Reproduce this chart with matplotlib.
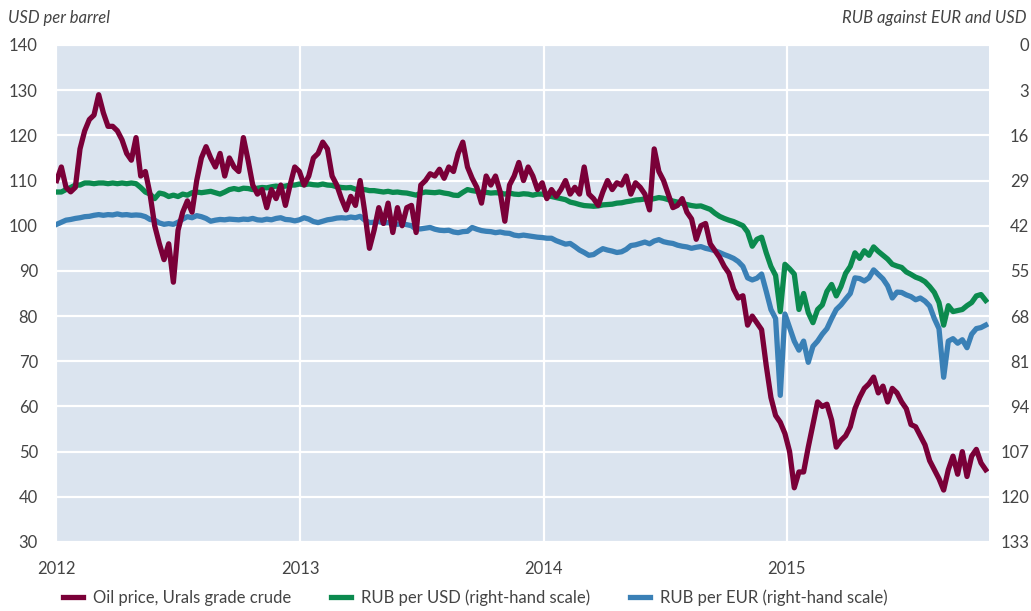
import numpy as np
import pandas as pd
import matplotlib
matplotlib.use('Agg')
import matplotlib.pyplot as plt

# weekly readings, first Monday of 2012 onwards
oil_usd = [
    110, 113, 108.5, 107.5, 108.5, 117, 121, 123.5, 124.5, 129, 125, 122, 122,
    121, 119, 116, 114.5, 119.5, 111, 112, 107, 100, 96, 92.5, 96, 87.5,
    99, 103, 105.5, 103, 110, 115, 117.5, 115, 113, 116, 111, 115, 113,
    112, 119.5, 114.5, 109, 107, 108, 104, 108, 106, 109, 104.5, 109, 113,
    # 2013
    112, 109, 111, 115, 116, 118.5, 117, 111, 109, 106, 103.5, 106.5, 104.5,
    110, 103, 95, 99, 104, 100.5, 105, 98.5, 104, 100, 104, 104.5, 98.5,
    109, 110, 111.5, 111, 112.5, 110.5, 113, 112, 116, 118.5, 113, 110.5, 108.5,
    105, 111, 109, 111, 107.5, 101, 109, 111, 114, 110, 113, 111, 108,
    # 2014
    109.5, 106, 108, 106.5, 108, 110, 107, 108.5, 107, 113, 107, 106, 104.5,
    107.5, 110, 108, 109.5, 109, 111, 107, 109.5, 108.5, 107, 103.5, 117, 112,
    110, 107, 104, 104.5, 106, 103, 101.5, 97, 100, 100.5, 96, 94.5, 93,
    91, 89.5, 86, 84, 84.5, 78, 80, 78.5, 77, 69, 62, 58, 56.5,
    # 2015
    54, 50, 42, 45.5, 45.5, 51, 56, 61, 60, 60.5, 57,
    51, 52.5, 53.5, 55.5, 59.5, 62, 64, 65, 66.5, 63, 64.5,
    61, 64, 63, 61, 59.5, 56, 55.5, 53.5, 51.5, 48, 46,
    44, 41.5, 46, 49, 45, 50, 44.5, 49, 50.5, 47.5, 46,
]

rub_usd = [
    32.3, 32.3, 31.6, 31.0, 30.3, 30.3, 29.7, 29.7, 29.9, 29.7, 29.7, 29.9, 29.7,
    29.9, 29.7, 29.9, 29.7, 29.9, 31.0, 32.3, 32.9, 34.2, 32.6, 32.9, 33.6, 33.2,
    33.6, 32.9, 33.2, 32.5, 32.3, 32.5, 32.3, 32.1, 32.5, 32.9, 32.3, 31.6, 31.3,
    31.6, 31.2, 31.3, 31.6, 31.2, 31.0, 31.1, 30.8, 30.6, 30.8, 30.6, 30.3, 30.3,
    # 2013
    30.0, 30.2, 30.0, 30.2, 30.3, 30.0, 30.3, 30.4, 30.8, 31.0, 31.1, 31.0, 31.5,
    31.6, 31.6, 31.9, 31.9, 32.1, 32.3, 32.1, 32.4, 32.3, 32.5, 32.6, 32.9, 33.2,
    32.6, 32.3, 32.4, 32.5, 32.3, 32.6, 32.8, 33.2, 33.3, 32.4, 31.6, 31.9, 32.1,
    32.5, 32.4, 32.6, 32.5, 32.6, 32.9, 32.6, 32.9, 33.0, 32.8, 32.9, 33.2, 32.9,
    # 2014
    32.9, 33.4, 33.6, 33.9, 34.2, 34.5, 35.2, 35.5, 35.9, 36.2, 36.3, 36.4, 36.3,
    36.0, 35.9, 35.8, 35.5, 35.4, 35.1, 34.9, 34.6, 34.5, 34.3, 34.5, 34.2, 33.9,
    34.1, 34.5, 34.9, 35.2, 35.6, 35.9, 36.2, 36.4, 36.3, 36.8, 37.3, 38.4, 39.3,
    39.9, 40.4, 40.8, 41.4, 42.0, 43.8, 47.9, 45.9, 45.3, 49.8, 53.7, 56.3, 66.7,
    # 2015
    53.1, 54.4, 55.9, 66.1, 61.5, 67.0, 69.9, 66.1, 64.8, 60.9, 58.9,
    62.2, 59.5, 55.7, 53.7, 49.8, 51.4, 49.2, 50.5, 48.1, 49.4, 50.5,
    51.6, 53.1, 53.6, 54.0, 55.3, 56.0, 56.8, 57.3, 58.1, 59.5, 61.2,
    64.1, 70.6, 65.0, 66.7, 66.4, 66.1, 65.0, 64.1, 62.2, 61.8, 63.5,
]

rub_eur = [
    41.6, 41.0, 40.4, 40.2, 39.9, 39.7, 39.4, 39.3, 39.0, 38.8, 39.0, 38.8, 38.9,
    38.6, 38.9, 38.8, 39.0, 38.9, 39.0, 39.4, 40.2, 40.4, 41.2, 41.6, 41.4, 41.6,
    41.0, 40.1, 39.4, 39.7, 39.1, 39.4, 39.9, 40.7, 40.4, 40.2, 40.3, 40.1, 40.2,
    40.3, 40.1, 40.2, 39.9, 40.3, 40.4, 40.1, 40.3, 39.9, 39.7, 40.2, 40.3, 40.6,
    # 2013
    40.3, 39.7, 40.1, 40.8, 41.1, 40.7, 40.3, 40.1, 39.8, 39.7, 39.8, 39.5, 39.7,
    39.3, 40.4, 41.1, 41.0, 40.8, 41.2, 41.1, 41.4, 41.6, 41.4, 41.7, 42.0, 43.0,
    42.9, 42.7, 42.5, 43.0, 43.3, 43.4, 43.3, 43.8, 44.0, 43.7, 43.6, 42.5, 43.0,
    43.4, 43.6, 43.7, 44.0, 43.8, 44.1, 44.2, 44.7, 44.9, 44.7, 44.9, 45.1, 45.3,
    # 2014
    45.4, 45.6, 45.6, 46.3, 46.8, 47.3, 47.1, 48.0, 49.0, 49.7, 50.5, 50.3, 49.4,
    48.6, 49.0, 49.3, 49.7, 49.5, 48.8, 47.7, 47.5, 47.1, 46.7, 47.2, 46.4, 46.0,
    46.6, 46.9, 47.1, 47.6, 47.9, 48.1, 48.5, 48.2, 48.0, 48.5, 48.8, 49.2, 49.7,
    50.3, 50.8, 51.4, 52.3, 53.7, 57.0, 57.6, 57.1, 55.9, 60.9, 66.1, 68.7, 90.8,
    # 2015
    67.4, 71.3, 75.2, 77.8, 75.2, 81.3, 76.7, 75.2, 73.2, 71.6, 68.7,
    66.1, 64.8, 63.1, 61.5, 57.0, 57.2, 57.9, 57.0, 54.7, 56.0, 57.3,
    59.3, 62.8, 61.1, 61.2, 61.9, 62.4, 63.3, 62.8, 63.7, 65.1, 68.7,
    71.6, 85.6, 75.2, 74.5, 75.8, 74.8, 77.1, 73.2, 71.6, 71.3, 70.6,
]

usd_ticks = list(range(30, 150, 10))
rub_ticks = [-10, 3, 16, 29, 42, 55, 68, 81, 94, 107, 120, 133]
rub_labels = ['0', '3', '16', '29', '42', '55', '68', '81', '94', '107', '120', '133']
years = ['2012', '2013', '2014', '2015']

labels = ['Oil price, Urals grade crude', 'RUB per USD (right-hand scale)',
          'RUB per EUR (right-hand scale)']

c_oil = '#7a0038'
c_usd = '#0b8a4e'
c_eur = '#3a80b6'
bg = '#dbe4ef'
txt = '#444444'

plt.rcParams['font.family'] = ['Lato', 'DejaVu Sans']

fig = plt.figure(figsize=(10.31, 6.11), dpi=100)
ax = fig.add_axes([56/1031, 1 - 542/611, (989 - 56)/1031, (542 - 45)/611])

weeks = pd.date_range('2012-01-02', periods=len(oil_usd), freq='7D')
x0, x1 = pd.Timestamp('2012-01-01'), pd.Timestamp('2015-10-31')

# RUB series on the base axes (right scale, inverted)
ax.set_facecolor(bg)
l_usd, = ax.plot(weeks[:len(rub_usd)], rub_usd, color=c_usd, lw=3.8)
l_eur, = ax.plot(weeks[:len(rub_eur)], rub_eur, color=c_eur, lw=3.8)
ax.set_ylim(133, -10)
ax.set_yticks(rub_ticks)
ax.set_yticklabels(rub_labels)
ax.set_xticks([pd.Timestamp(y + '-01-01') for y in years])
ax.set_xticklabels(years)
ax.set_xlim(x0, x1)
ax.grid(True, color='white', lw=1.6)
ax.set_axisbelow(True)
for s in ax.spines.values():
    s.set_visible(False)

# oil on a twin so it draws on top
axo = ax.twinx()
l_oil, = axo.plot(weeks, oil_usd, color=c_oil, lw=3.8)
axo.set_ylim(30, 140)
axo.set_yticks(usd_ticks)
axo.set_xlim(x0, x1)
for s in axo.spines.values():
    s.set_visible(False)

# twinx resets tick sides, so set them afterwards
ax.yaxis.tick_right()
axo.yaxis.tick_left()
ax.tick_params(axis='y', length=0, pad=29, labelsize=12, labelcolor=txt)
ax.tick_params(axis='x', length=0, pad=14, labelsize=12, labelcolor=txt)
axo.tick_params(axis='y', length=0, pad=13, labelsize=12, labelcolor=txt)
for lab in ax.get_yticklabels():
    lab.set_horizontalalignment('right')

fig.text(8/1031, 1 - 18/611, 'USD per barrel', style='italic', fontsize=12,
         color=txt, va='center', ha='left')
fig.text(1026/1031, 1 - 18/611, 'RUB against EUR and USD', style='italic',
         fontsize=12, color=txt, va='center', ha='right')

fig.legend([l_oil, l_usd, l_eur], labels, loc='center left',
           bbox_to_anchor=(56/1031, 1 - 598/611), ncol=3, frameon=False,
           fontsize=12, handlelength=1.2, handletextpad=0.6,
           columnspacing=2.4, labelcolor=txt, borderaxespad=0)

fig.savefig('out.png', dpi=100)
